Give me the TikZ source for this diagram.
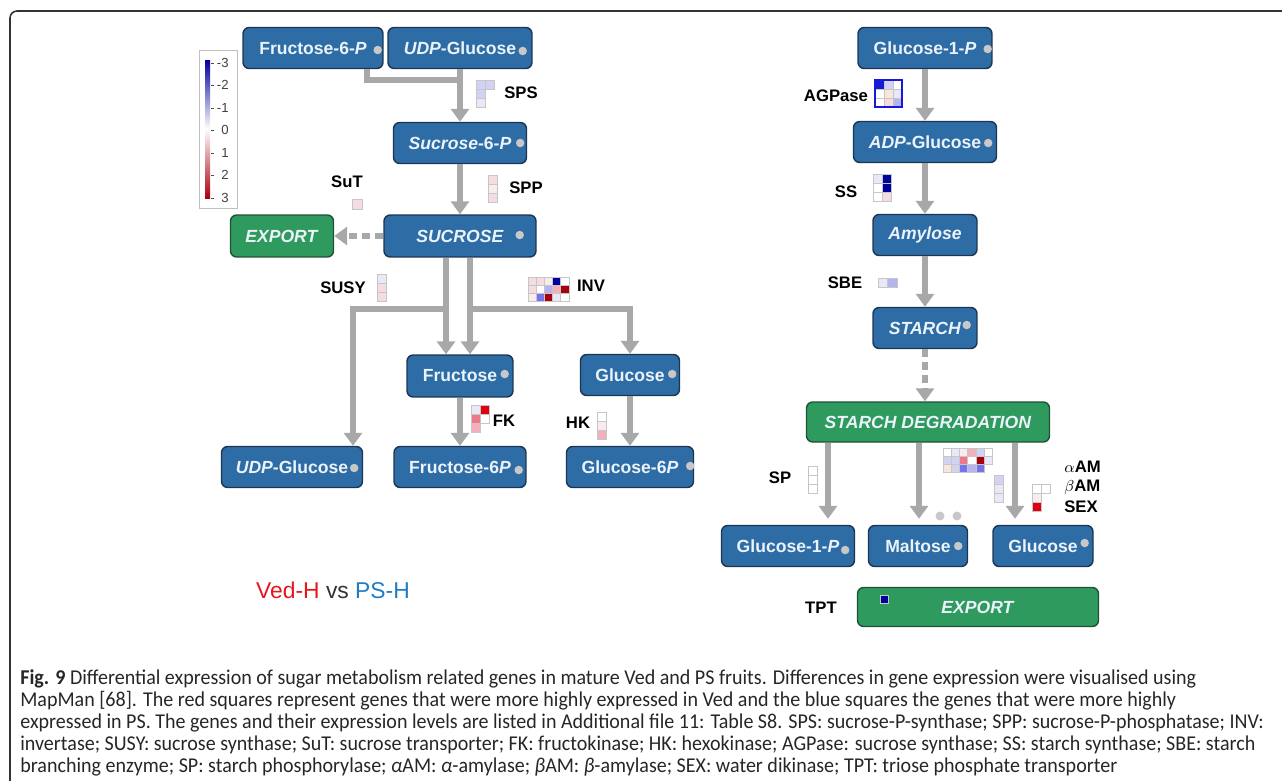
\documentclass[tikz,border=0pt]{standalone}
\usepackage{fontspec}
\setmainfont{Liberation Sans}
\newfontfamily\capfont[FakeStretch=0.95]{Carlito}
\usetikzlibrary{arrows.meta, positioning, calc}
\definecolor{mapblue}{HTML}{2E6CA5}
\definecolor{mapblueedge}{HTML}{1C3552}
\definecolor{mapgreen}{HTML}{2F9A5E}
\definecolor{mapgreenedge}{HTML}{1E5236}
\definecolor{maptext}{HTML}{EAF2FA}
\definecolor{flowgray}{HTML}{A8A8A8}
\definecolor{dotgray}{HTML}{C8C8C8}
\definecolor{vedred}{HTML}{E5161D}
\definecolor{psblue}{HTML}{1F7BC4}
% heat map colours
\definecolor{hw}{HTML}{FFFFFF}
\definecolor{hpka}{HTML}{F4DCE0}
\definecolor{hpkb}{HTML}{F9ECEE}
\definecolor{hpkc}{HTML}{F2B0BA}
\definecolor{hpkd}{HTML}{F07888}
\definecolor{hred}{HTML}{E00014}
\definecolor{hdred}{HTML}{A8000F}
\definecolor{hlva}{HTML}{E8E8F6}
\definecolor{hlvb}{HTML}{D2D2F2}
\definecolor{hbla}{HTML}{B4B4F0}
\definecolor{hblb}{HTML}{7474EE}
\definecolor{hblc}{HTML}{1818D8}
\definecolor{hbld}{HTML}{00009A}
\definecolor{hpeach}{HTML}{F8E6DC}

% #1 cell size, #2/#3 top left, #4 list col/row/colour
\newcommand{\heatmap}[4][8.5]{%
  \foreach \hc/\hr/\hcol in {#4}
    \draw[hcell, fill=\hcol] (#2+\hc*#1, #3+\hr*#1) rectangle ++(#1,#1);
}
\newcommand{\pooldot}[2]{\fill[dotgray] ($(#1.east)+(#2)$) circle (0.085cm);}

\begin{document}
\begin{tikzpicture}[x=0.02cm, y=-0.02cm,
    metab/.style={draw=mapblueedge, fill=mapblue, line width=0.8pt, rounded corners=3.5pt,
                  minimum height=0.82cm, inner sep=0pt, text=maptext,
                  font=\fontsize{10}{12}\selectfont\bfseries},
    exportbox/.style={metab, draw=mapgreenedge, fill=mapgreen},
    flowline/.style={draw=flowgray, line width=0.12cm},
    flow/.style={flowline, -{Triangle[length=0.26cm, width=0.36cm]}},
    flowdash/.style={flow, dash pattern=on 0.16cm off 0.1cm},
    lbl/.style={font=\fontsize{9.5}{11}\selectfont\bfseries, inner sep=0pt},
    hcell/.style={draw=gray!45, line width=0.5pt},
]
    \useasboundingbox (0,0) rectangle (1282,781);
    \draw[black!80, line width=0.9pt, rounded corners=4pt] (40,800) -- (10,800) -- (10,11) -- (1300,11);

    % sucrose side
    \node[metab, minimum width=2.8cm] (f6p) at (313,48) {Fructose-6-\textit{P}};
    \node[metab, minimum width=2.88cm] (udpg) at (460,48) {\textit{UDP}-Glucose};
    \node[metab, minimum width=2.66cm] (s6p) at (460,143) {\textit{Sucrose}-6-\textit{P}};
    \node[metab, minimum width=3.04cm, minimum height=0.84cm] (suc) at (460,236) {\textit{SUCROSE}};
    \node[exportbox, minimum width=2.06cm, minimum height=0.84cm] (expl) at (282,236) {\textit{EXPORT}};
    \node[metab, minimum width=2.12cm, minimum height=0.84cm] (fru) at (460,376) {Fructose};
    \node[metab, minimum width=1.98cm] (glc) at (630,375) {Glucose};
    \node[metab, minimum width=2.82cm] (udpgb) at (292,467) {\textit{UDP}-Glucose};
    \node[metab, minimum width=2.64cm] (fru6p) at (460,467) {Fructose-6\textit{P}};
    \node[metab, minimum width=2.54cm] (glc6p) at (630,467) {Glucose-6\textit{P}};

    \draw[flowline] ($(f6p.south)+(54,0)$) |- ($(udpg.south)+(0,11)$);
    \draw[flow] (udpg.south) -- (s6p.north);
    \draw[flow] (s6p.south) -- (suc.north);
    \draw[flowdash] (suc.west) -- (expl.east);
    \draw[flow] ($(suc.south)+(-14,51)$) -| ($(udpgb.north)+(61,0)$);
    \draw[flow] ($(suc.south)+(10,51)$) -| (glc.north);
    \draw[flow] ($(suc.south)+(-14,0)$) -- ($(fru.north)+(-14,0)$);
    \draw[flow] ($(suc.south)+(10,0)$) -- ($(fru.north)+(10,0)$);
    \draw[flow] (fru.south) -- (fru6p.north);
    \draw[flow] (glc.south) -- (glc6p.north);

    % starch side
    \node[metab, minimum width=2.68cm] (g1p) at (925,48) {Glucose-1-\textit{P}};
    \node[metab, minimum width=2.86cm] (adpg) at (925,142) {\textit{ADP}-Glucose};
    \node[metab, minimum width=2.08cm] (amy) at (925,235) {\textit{Amylose}};
    \node[metab, minimum width=2.08cm] (sta) at (925,328) {\textit{STARCH}};
    \node[exportbox, minimum width=4.86cm, minimum height=0.8cm] (sdeg) at (928,422) {\textit{STARCH DEGRADATION}};
    \node[metab, minimum width=2.66cm] (g1pb) at (788,546) {Glucose-1-\textit{P}};
    \node[metab, minimum width=1.98cm] (mal) at (918,546) {Maltose};
    \node[metab, minimum width=2cm] (glcb) at (1043,546) {Glucose};
    \node[exportbox, minimum width=4.82cm, minimum height=0.78cm] (expr) at (978,607) {\textit{EXPORT}};

    \draw[flow] (g1p.south) -- (adpg.north);
    \draw[flow] (adpg.south) -- (amy.north);
    \draw[flow] (amy.south) -- (sta.north);
    \draw[flowdash] (sta.south) -- (sta.south |- sdeg.north);
    \draw[flow, shorten >=0.12cm] ($(sdeg.south)+(-100,0)$) -- ($(g1pb.north)+(40,0)$);
    \draw[flow, shorten >=0.12cm] ($(sdeg.south)+(-9,0)$) -- ($(mal.north)+(1,0)$);
    \draw[flow, shorten >=0.12cm] ($(sdeg.south)+(87,0)$) -- ($(glcb.north)+(-28,0)$);

    % pool dots
    \pooldot{f6p}{-6,2}
    \pooldot{udpg}{-10,3}
    \pooldot{s6p}{-7,0}
    \pooldot{suc}{-17,-1}
    \pooldot{fru}{-9,-2}
    \pooldot{glc}{-8,-1}
    \pooldot{udpgb}{-9,1}
    \pooldot{fru6p}{-8,3}
    \pooldot{glc6p}{-4,-1}
    \pooldot{g1p}{-5,1}
    \pooldot{adpg}{-9,1}
    \pooldot{sta}{-11,-3}
    \pooldot{g1pb}{-10,4}
    \pooldot{mal}{-10,0}
    \pooldot{glcb}{-9,-3}
    \fill[dotgray] (940,516) circle (0.09cm);
    \fill[dotgray] (957,516) circle (0.09cm);

    % enzyme labels
    \node[lbl] (sps) at (521,93) {SPS};
    \node[lbl] (spp) at (526,188) {SPP};
    \node[lbl] (sut) at (347,182) {SuT};
    \node[lbl] (susy) at (343,288) {SUSY};
    \node[lbl] (inv) at (591,286) {INV};
    \node[lbl] (fk) at (504,421) {FK};
    \node[lbl] (hk) at (578,423) {HK};
    \node[lbl] (agp) at (836,96) {AGPase};
    \node[lbl] (ss) at (846,192) {SS};
    \node[lbl] (sbe) at (845,283) {SBE};
    \node[lbl] (sp) at (780,478) {SP};
    \node[lbl, anchor=west] (aam) at (1064,467) {$\alpha$AM};
    \node[lbl, anchor=west] (bam) at (1064,487) {$\beta$AM};
    \node[lbl, anchor=west] (sex) at (1064,507) {SEX};
    \node[lbl] (tpt) at (821,608) {TPT};

    % expression squares
    \heatmap[9]{476}{80}{0/0/hlvb,1/0/hlvb,0/1/hlvb,0/2/hlva}
    \heatmap[9.3]{488}{175}{0/0/hpka,0/1/hpkb,0/2/hpka}
    \heatmap[10]{352}{199}{0/0/hpka}
    \heatmap[9]{377}{274}{0/0/hlva,0/1/hpka,0/2/hpka}
    \heatmap[8.2]{528}{277}{0/0/hpka,1/0/hpka,2/0/hpkb,3/0/hbld,4/0/hw,
                            0/1/hpka,1/1/hw,2/1/hbla,3/1/hpkc,4/1/hdred,
                            0/2/hpkb,1/2/hblb,2/2/hdred,3/2/hlva,4/2/hw}
    \heatmap[9]{471}{405}{0/0/hlva,1/0/hred,0/1/hpkd,1/1/hw,0/2/hpkc}
    \heatmap[9]{597}{412}{0/0/hw,0/1/hpkb,0/2/hpkc}
    \heatmap[9]{875}{80}{0/0/hblc,1/0/hlvb,2/0/hw,0/1/hw,1/1/hpeach,2/1/hlva,0/2/hw,1/2/hpka,2/2/hbla}
    \draw[hblc, line width=0.7pt] (875,80) rectangle ++(27,27);
    \heatmap[9.3]{873}{174}{0/0/hlva,1/0/hbld,0/1/hw,1/1/hbld,0/2/hw,1/2/hpka}
    \heatmap[9.5]{878}{278}{0/0/hlva,1/0/hbla}
    \heatmap[8.3]{943}{448}{0/0/hw,1/0/hlva,2/0/hpkb,3/0/hpkc,4/0/hlvb,5/0/hw,
                            0/1/hlvb,1/1/hlvb,2/1/hpkd,3/1/hw,4/1/hdred,5/1/hlva,
                            0/2/hpeach,1/2/hlvb,2/2/hblb,3/2/hbla,4/2/hblb}
    \heatmap[9]{994}{475}{0/0/hlvb,0/1/hlva,0/2/hlva}
    \heatmap[9]{1032}{484}{0/0/hw,1/0/hw,0/1/hpkb,0/2/hred}
    \heatmap[9]{808}{466}{0/0/hw,0/1/hw,0/2/hw}
    \heatmap[8]{880}{595}{0/0/hbld}

    % colour key
    \draw[gray!50, line width=0.5pt] (199,50) rectangle (237,208);
    \shade[top color=hbld, bottom color=white] (205,60) rectangle (210,129);
    \shade[top color=white, bottom color=hdred] (205,129) rectangle (210,198);
    \foreach \v/\yy in {-3/63,-2/85,-1/108,0/130,1/153,2/175,3/198} {
        \draw[black!70, line width=0.4pt] (211,\yy) -- (214,\yy);
        \node[anchor=east, inner sep=0pt, text=black!75, font=\fontsize{7.5}{8}\selectfont] (key\v) at (229,\yy) {\v};
    }

    \node[font=\fontsize{13}{15}\selectfont] (versus) at (333,590)
        {\textcolor{vedred}{Ved-H} \textcolor{black!80}{vs} \textcolor{psblue}{PS-H}};

    % caption
    \node[anchor=north west, align=left, inner sep=0pt, text=black!85,
          font=\capfont\fontsize{12}{12.6}\selectfont] (caption) at (20,669) {%
        \textbf{Fig. 9} Differential expression of sugar metabolism related genes in mature Ved and PS fruits. Differences in gene expression were visualised using\\
        MapMan [68]. The red squares represent genes that were more highly expressed in Ved and the blue squares the genes that were more highly\\
        expressed in PS. The genes and their expression levels are listed in Additional file 11: Table S8. SPS: sucrose-P-synthase; SPP: sucrose-P-phosphatase; INV:\\
        invertase; SUSY: sucrose synthase; SuT: sucrose transporter; FK: fructokinase; HK: hexokinase; AGPase: sucrose synthase; SS: starch synthase; SBE: starch\\
        branching enzyme; SP: starch phosphorylase; \textit{α}AM: \textit{α}-amylase; \textit{β}AM: \textit{β}-amylase; SEX: water dikinase; TPT: triose phosphate transporter};
\end{tikzpicture}
\end{document}
